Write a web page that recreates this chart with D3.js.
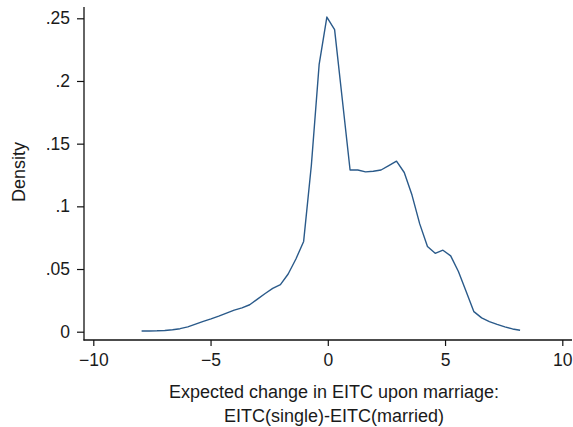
<!DOCTYPE html>
<html>
<head>
<meta charset="utf-8">
<script src="https://cdn.jsdelivr.net/npm/d3@7"></script>
<style>
  html, body { margin: 0; padding: 0; background: #fff; }
  svg { display: block; }
  text { font-family: "Liberation Sans", Arial, sans-serif; fill: #1a1a1a; }
</style>
</head>
<body>
<svg id="chart" width="573" height="427"></svg>
<script>
// Data (kernel density estimate)
const xValues = [-7.94, -7.61, -7.28, -6.95, -6.62, -6.30, -5.97, -5.64, -5.31, -4.98,
                 -4.65, -4.32, -3.99, -3.66, -3.33, -3.00, -2.67, -2.35, -2.02, -1.69,
                 -1.36, -1.03, -0.70, -0.37, -0.04, 0.29, 0.62, 0.95, 1.28, 1.61,
                 1.94, 2.27, 2.60, 2.93, 3.26, 3.59, 3.92, 4.25, 4.58, 4.91,
                 5.24, 5.57, 5.90, 6.23, 6.56, 6.89, 7.22, 7.55, 7.88, 8.20];
const densityValues = [0.0006, 0.0006, 0.0007, 0.0010, 0.0016, 0.0024, 0.0038, 0.0060, 0.0082, 0.0102,
                       0.0124, 0.0148, 0.0172, 0.0190, 0.0215, 0.0260, 0.0305, 0.0345, 0.0375, 0.0460,
                       0.0580, 0.0720, 0.1330, 0.2130, 0.2510, 0.2410, 0.1850, 0.1290, 0.1290, 0.1275,
                       0.1280, 0.1290, 0.1325, 0.1360, 0.1270, 0.1090, 0.0860, 0.0680, 0.0625, 0.0650,
                       0.0605, 0.0480, 0.0320, 0.0160, 0.0110, 0.0080, 0.0058, 0.0038, 0.0022, 0.0012];
const xTicks = [-10, -5, 0, 5, 10];
const yTicks = [0, 0.05, 0.1, 0.15, 0.2, 0.25];
const yTickLabels = ["0", ".05", ".1", ".15", ".2", ".25"];
const yTitle = "Density";
const xTitleLines = ["Expected change in EITC upon marriage:", "EITC(single)-EITC(married)"];

const svg = d3.select("#chart");
const axisLeftX = 84, axisBottomY = 340;

const x = d3.scaleLinear().domain([-10, 10]).range([93.3, 562.3]);
const y = d3.scaleLinear().domain([0, 0.25]).range([331.7, 18.3]);

// Y axis
const yAxis = d3.axisLeft(y)
  .tickValues(yTicks)
  .tickFormat((d, i) => yTickLabels[i])
  .tickSize(7).tickPadding(7);
const gy = svg.append("g").attr("transform", `translate(${axisLeftX},0)`).call(yAxis);
gy.select(".domain").remove();
gy.append("line").attr("x1", 0).attr("x2", 0).attr("y1", 7).attr("y2", axisBottomY + 0.5)
  .attr("stroke", "#111").attr("stroke-width", 1.3);
gy.selectAll(".tick line").attr("stroke", "#111").attr("stroke-width", 1.2);
gy.selectAll(".tick text").style("font-size", "17.5px").attr("fill", "#1a1a1a")
  .style("font-family", "'Liberation Sans', Arial, sans-serif");

// X axis
const xAxis = d3.axisBottom(x).tickValues(xTicks).tickFormat(d3.format("d"))
  .tickSize(6).tickPadding(8);
const gx = svg.append("g").attr("transform", `translate(0,${axisBottomY})`).call(xAxis);
gx.select(".domain").remove();
gx.append("line").attr("x1", axisLeftX - 0.5).attr("x2", 572).attr("y1", 0).attr("y2", 0)
  .attr("stroke", "#111").attr("stroke-width", 1.3);
gx.selectAll(".tick line").attr("stroke", "#111").attr("stroke-width", 1.2);
gx.selectAll(".tick text").style("font-size", "17.5px").attr("fill", "#1a1a1a")
  .style("font-family", "'Liberation Sans', Arial, sans-serif");

// Density line
const pts = xValues.map((v, i) => [v, densityValues[i]]);
svg.append("path")
  .datum(pts)
  .attr("fill", "none")
  .attr("stroke", "#2a5a8a")
  .attr("stroke-width", 1.4)
  .attr("stroke-linejoin", "round")
  .attr("d", d3.line().x(d => x(d[0])).y(d => y(d[1])));

// Axis titles
svg.append("text")
  .attr("transform", "translate(25,172) rotate(-90)")
  .attr("text-anchor", "middle")
  .style("font-size", "18px")
  .text(yTitle);

svg.append("text")
  .attr("x", 334).attr("y", 397.5)
  .attr("text-anchor", "middle")
  .style("font-size", "18px")
  .selectAll("tspan")
  .data(xTitleLines)
  .join("tspan")
  .attr("x", 334)
  .attr("dy", (d, i) => i === 0 ? 0 : 24)
  .text(d => d);
</script>
</body>
</html>
